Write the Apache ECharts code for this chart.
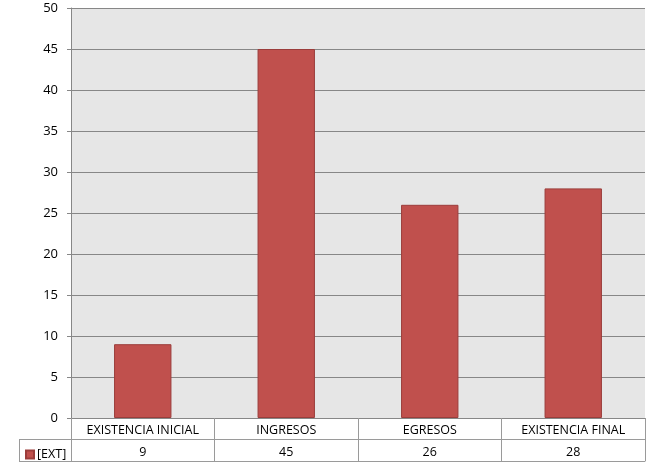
<!DOCTYPE html>
<html>
<head>
<meta charset="utf-8">
<script src="https://cdn.jsdelivr.net/npm/echarts@6/dist/echarts.min.js"></script>
<style>
  html, body { margin: 0; padding: 0; background: #fff; }
  #chart_id { width: 646px; height: 469px; }
</style>
</head>
<body>
<div id="chart_id"></div>
<script>
// datos de la tabla
var categorias = ['EXISTENCIA INICIAL', 'INGRESOS', 'EGRESOS', 'EXISTENCIA FINAL'];
var valores = [9, 45, 26, 28];
var serie_nombre = '[EXT]';

var grid_left = 71, grid_top = 8, grid_bottom = 51;
var fila1 = 21, fila2 = 22;
var linea_tabla = '#9a9a9a';
var fuente = 'Open Sans';

var chart = echarts.init(document.getElementById('chart_id'));
var row1 = 469 - grid_bottom + fila1;   // linea entre categorias y valores
var row2 = row1 + fila2;                // linea inferior de la tabla

var options = {
  animation: false,
  textStyle: { fontFamily: fuente },
  grid: {
    left: grid_left, right: 1, top: grid_top, bottom: grid_bottom,
    show: true, backgroundColor: '#e6e6e6', borderWidth: 0
  },
  legend: {
    data: [serie_nombre],
    left: 20, top: row1 + 4,
    itemWidth: 8, itemHeight: 8, icon: 'rect', itemGap: 2,
    textStyle: { fontSize: 12.5, color: '#000', fontFamily: fuente, padding: [0, 0, 0, -2] }
  },
  xAxis: [{
    type: 'category',
    data: categorias,
    axisLine: { lineStyle: { color: '#878787' } },
    axisTick: { show: true, interval: 0, length: fila1 + fila2, lineStyle: { color: linea_tabla } },
    axisLabel: { interval: 0, margin: 6, fontSize: 12.5, color: '#000' }
  }, {
    type: 'category',
    data: categorias,
    position: 'bottom',
    offset: fila1,
    axisLine: { lineStyle: { color: linea_tabla } },
    axisTick: { show: false },
    axisLabel: {
      interval: 0, margin: 7, fontSize: 12.5, color: '#000',
      formatter: function (v, i) { return String(valores[i]); }
    }
  }, {
    type: 'category',
    data: categorias,
    position: 'bottom',
    offset: fila1 + fila2,
    axisLine: { lineStyle: { color: linea_tabla } },
    axisTick: { show: false },
    axisLabel: { show: false }
  }],
  yAxis: {
    type: 'value',
    min: 0, max: 50, interval: 5,
    axisLine: { show: true, lineStyle: { color: '#878787' } },
    axisTick: { show: true, length: 4, lineStyle: { color: '#878787' } },
    axisLabel: { margin: 13, fontSize: 13, color: '#000' },
    splitLine: { lineStyle: { color: '#878787' } }
  },
  series: [{
    name: serie_nombre,
    type: 'bar',
    xAxisIndex: 0,
    barWidth: '40%',
    data: valores,
    itemStyle: { color: '#c0504d', borderColor: '#9b3d3b', borderWidth: 1 }
  }],
  graphic: [
    { type: 'line', shape: { x1: 19, y1: row1 + 0.5, x2: grid_left, y2: row1 + 0.5 }, style: { stroke: linea_tabla } },
    { type: 'line', shape: { x1: 19, y1: row2 + 0.5, x2: grid_left, y2: row2 + 0.5 }, style: { stroke: linea_tabla } },
    { type: 'line', shape: { x1: 19.5, y1: row1, x2: 19.5, y2: row2 }, style: { stroke: linea_tabla } }
  ]
};
chart.setOption(options);
</script>
</body>
</html>
